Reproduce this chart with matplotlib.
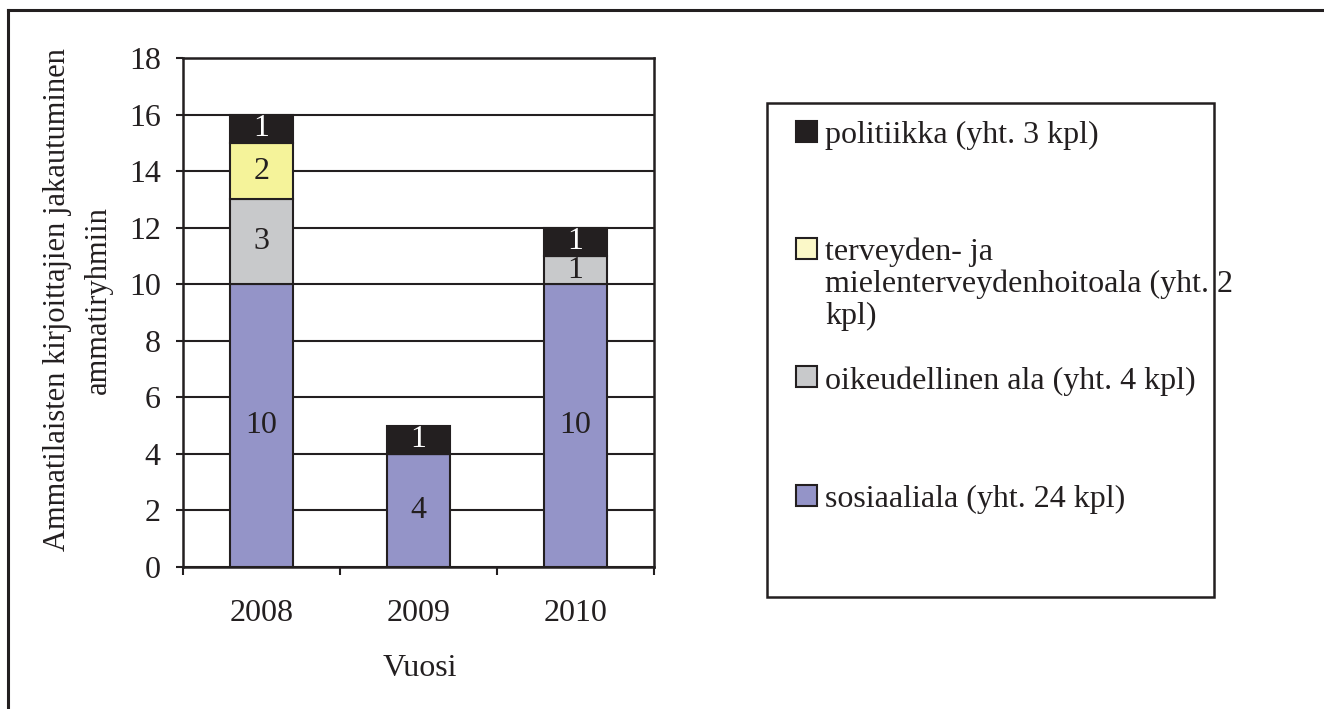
import matplotlib
matplotlib.use("Agg")
import matplotlib.pyplot as plt
from matplotlib.patches import Rectangle
import numpy as np

years = ["2008", "2009", "2010"]
series_names = ["sosiaaliala", "oikeudellinen ala", "terveyden- ja mielenterveydenhoitoala", "politiikka"]
sosiaaliala = [10, 4, 10]
oikeudellinen = [3, 0, 1]
terveys = [2, 0, 0]
politiikka = [1, 1, 1]
legend_labels = [
    "politiikka (yht. 3 kpl)",
    "terveyden- ja\nmielenterveydenhoitoala (yht. 2\nkpl)",
    "oikeudellinen ala (yht. 4 kpl)",
    "sosiaaliala (yht. 24 kpl)",
]
y_ticks = [0, 2, 4, 6, 8, 10, 12, 14, 16, 18]

colors = ["#9494c8", "#c8c9cb", "#f5f39a", "#231f20"]
legend_colors = ["#231f20", "#fbf8c8", "#c8c9cb", "#9494c8"]
label_colors = ["#231f20", "#231f20", "#231f20", "white"]
dark = "#231f20"

plt.rcParams["font.family"] = ["Liberation Serif", "DejaVu Serif"]
FS = 23

W, H = 1324, 709
fig = plt.figure(figsize=(W / 100, H / 100), dpi=100)

# outer frame (top and left visible)
fig.add_artist(plt.Line2D([8 / W, 8 / W], [0, 1 - 10 / H], color=dark, lw=2.2, transform=fig.transFigure))
fig.add_artist(plt.Line2D([8 / W, 1], [1 - 10 / H, 1 - 10 / H], color=dark, lw=2.2, transform=fig.transFigure))

ax = fig.add_axes([183 / W, 1 - 567 / H, (654 - 183) / W, (567 - 58) / H])
x = np.arange(len(years))
data = [sosiaaliala, oikeudellinen, terveys, politiikka]
bottom = np.zeros(len(years))
ax.set_axisbelow(True)
for vals, c, lc in zip(data, colors, label_colors):
    vals = np.array(vals, dtype=float)
    ax.bar(x, vals, width=0.4, bottom=bottom, color=c, edgecolor=dark, linewidth=1.5, zorder=3)
    for xi, v, b in zip(x, vals, bottom):
        if v > 0:
            ax.text(xi, b + v / 2, f"{int(v)}", ha="center", va="center", fontsize=FS, color=lc, zorder=4)
    bottom += vals

ax.set_ylim(0, 18)
ax.set_xlim(-0.5, 2.5)
ax.set_yticks(y_ticks)
ax.set_yticklabels([str(t) for t in y_ticks], fontsize=FS, color=dark)
ax.yaxis.grid(True, color=dark, lw=1.5)
ax.set_xticks(x)
ax.set_xticklabels(years, fontsize=FS, color=dark)
ax.set_xticks([-0.5, 0.5, 1.5, 2.5], minor=True)
ax.tick_params(axis="x", which="major", length=0, pad=23)
ax.tick_params(axis="x", which="minor", length=6, width=1.5, color=dark, direction="out")
ax.tick_params(axis="y", which="major", length=5, width=1.5, color=dark, pad=11)
for s in ax.spines.values():
    s.set_color(dark)
    s.set_linewidth(1.8)

fig.text(420 / W, 1 - 669 / H, "Vuosi", ha="center", va="center", fontsize=FS, color=dark)
fig.text(58 / W, 1 - 300 / H, "Ammatilaisten kirjoittajien jakautuminen", rotation=90,
         ha="center", va="center", fontsize=22, color=dark)
fig.text(98 / W, 1 - 300 / H, "ammatiryhmiin", rotation=90,
         ha="center", va="center", fontsize=22, color=dark)

# legend box
lx0, ly0, lx1, ly1 = 767, 103, 1214, 597
fig.add_artist(Rectangle((lx0 / W, 1 - ly1 / H), (lx1 - lx0) / W, (ly1 - ly0) / H,
                         transform=fig.transFigure, fill=False, edgecolor=dark, lw=1.8))
entry_y = [133, 250, 378, 497]
for lab, c, yy in zip(legend_labels, legend_colors, entry_y):
    fig.add_artist(Rectangle((796 / W, 1 - (yy + 9) / H), 21 / W, 21 / H, transform=fig.transFigure,
                             facecolor=c, edgecolor=dark, lw=1.5))
    fig.text(825 / W, 1 - (yy - 12) / H, lab, ha="left", va="top", fontsize=FS, color=dark,
             linespacing=1.1)

fig.savefig("out.png", dpi=100)
